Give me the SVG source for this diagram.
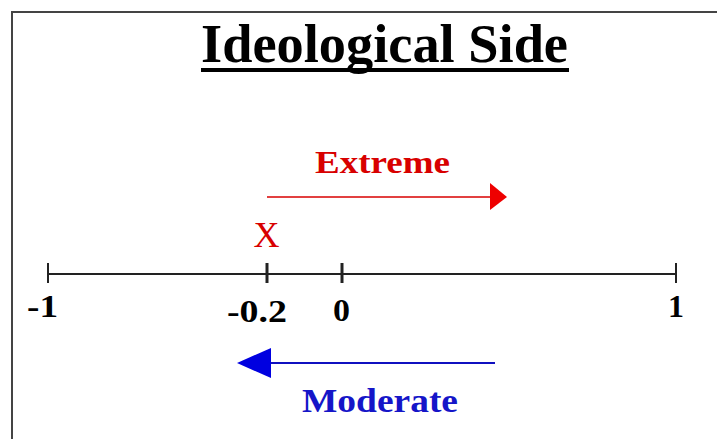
<svg xmlns="http://www.w3.org/2000/svg" width="717" height="439" viewBox="0 0 717 439">
<style>
.b{font-family:"Liberation Serif","Times New Roman",serif;font-weight:bold}
.ax{stroke:#222;fill:none}
</style>
<rect width="717" height="439" fill="#fff"/>
<g id="frame"><path d="M12 439 V12 H717" fill="none" stroke="#444" stroke-width="2"/></g>
<g id="title">
<text class="b" x="384.5" y="62" font-size="55" text-anchor="middle" textLength="367" lengthAdjust="spacingAndGlyphs" fill="#000">Ideological Side</text>
<rect x="201" y="68" width="368" height="4" fill="#000"/>
</g>
<g id="axis">
<line class="ax" x1="48" y1="274" x2="676" y2="274" stroke-width="2"/>
<line class="ax" x1="48" y1="263" x2="48" y2="283" stroke-width="2"/>
<line class="ax" x1="267" y1="263" x2="267" y2="283" stroke-width="3"/>
<line class="ax" x1="342" y1="263" x2="342" y2="283" stroke-width="3"/>
<line class="ax" x1="676" y1="263" x2="676" y2="283" stroke-width="2"/>
</g>
<g id="labels">
<text class="b" x="27" y="317" font-size="31" textLength="31" lengthAdjust="spacingAndGlyphs">-1</text>
<text class="b" x="227" y="322" font-size="31" textLength="60" lengthAdjust="spacingAndGlyphs">-0.2</text>
<text class="b" x="333" y="321" font-size="31" textLength="17" lengthAdjust="spacingAndGlyphs">0</text>
<text class="b" x="668" y="317" font-size="31" textLength="16" lengthAdjust="spacingAndGlyphs">1</text>
</g>
<g id="x-mark"><text x="266.5" y="247" font-family="Liberation Serif,serif" font-size="36" text-anchor="middle" fill="#d80000">X</text></g>
<g id="connectors">
<line x1="267" y1="197" x2="492" y2="197" stroke="#d80000" stroke-width="1.6"/>
<polygon points="490,183 507,197 490,210" fill="#ee0000"/>
<line x1="268" y1="363" x2="495" y2="363" stroke="#1010c0" stroke-width="2"/>
<polygon points="271,348 237,363 271,378" fill="#0000e0"/>
</g>
<g id="extreme"><text class="b" x="382.5" y="173" font-size="32" text-anchor="middle" textLength="135" lengthAdjust="spacingAndGlyphs" fill="#d80000">Extreme</text></g>
<g id="moderate"><text class="b" x="380" y="412" font-size="33" text-anchor="middle" textLength="156" lengthAdjust="spacingAndGlyphs" fill="#1515c8">Moderate</text></g>
</svg>
